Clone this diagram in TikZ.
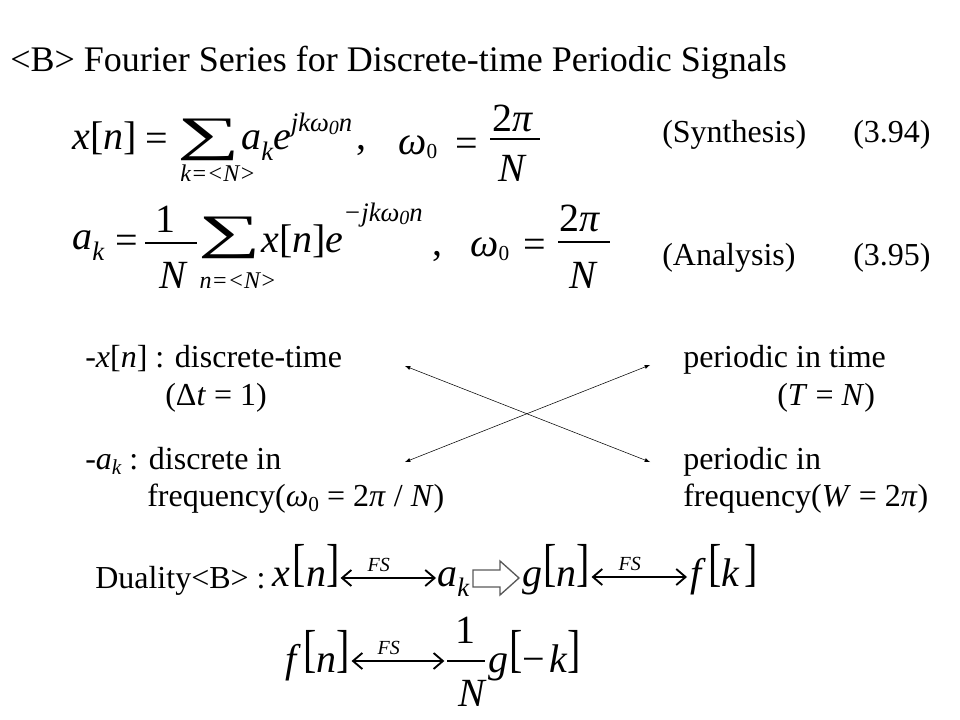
\documentclass[tikz,border=0pt]{standalone}
\usepackage{fontspec}
\setmainfont{Liberation Serif}
\usepackage{graphicx}
\usetikzlibrary{arrows.meta}

\newcommand{\bodysize}{\fontsize{24}{28}\selectfont}
\newcommand{\eqsize}{\fontsize{30}{36}\selectfont}
\newcommand{\scrsize}{\fontsize{20}{24}\selectfont}
\newcommand{\lo}[1]{\raisebox{-8pt}{\scrsize\itshape #1}}
\newcommand{\hi}[2]{\raisebox{#1}{\scrsize\itshape #2}}
\newcommand{\zs}{\raisebox{-2.5pt}{\fontsize{15}{18}\selectfont 0}}
\newcommand{\wz}{\raisebox{-2.5pt}{\fontsize{16}{18}\selectfont 0}}
\newcommand{\bsub}[1]{\raisebox{-4pt}{\fontsize{16}{18}\selectfont #1}}
\newcommand{\tall}[1]{\raisebox{4pt}{\scalebox{1}[1.3]{#1}}}
\newcommand{\bigsum}{\scalebox{1.5}[0.82]{∑}}

\begin{document}
\begin{tikzpicture}[x=0.75pt, y=-0.75pt,
    txt/.style={anchor=base west, inner sep=0pt, font=\bodysize},
    eqn/.style={anchor=base west, inner sep=0pt, font=\eqsize},
    lim/.style={anchor=base, inner sep=0pt, font=\fontsize{18}{22}\selectfont\itshape},
    sigma/.style={inner sep=0pt, font=\fontsize{44}{50}\selectfont},
    fs/.style={above, inner sep=4pt, font=\fontsize{15}{17}\selectfont\itshape},
    bar/.style={line width=1.2pt},
    pair/.style={{Straight Barb[length=7pt,width=12pt]}-{Straight Barb[length=7pt,width=12pt]}, line width=1.4pt},
    cross/.style={latex-latex, thin}]
    \useasboundingbox (0,0) rectangle (960,720);

    % Title
    \node[txt, font=\fontsize{27}{32}\selectfont] (title) at (10,72) {<B> Fourier Series for Discrete-time Periodic Signals};

    % Synthesis equation
    \node[eqn] (x1) at (72,150) {\textit{x}[\textit{n}]};
    \node[eqn] (eq1) at (145,152) {=};
    \node[sigma] (sum1) at (209,140) {\bigsum};
    \node[lim] (lim1) at (218,182) {k=<N>};
    \node[eqn] (ae1) at (241,150) {\textit{a}\lo{k}\textit{e}\hi{14pt}{jkω\zs n}\hspace{3pt},};
    \node[eqn] (w1) at (398,155) {\textit{ω}\wz};
    \node[eqn] (eq1b) at (455,157) {=};
    \node[eqn, anchor=base] (num1) at (513,132) {2\textit{π}};
    \draw[bar] (490,139) -- (540,139);
    \node[eqn, anchor=base] (den1) at (513,182) {\textit{N}};
    \node[txt] (synl) at (662,143) {(Synthesis)};
    \node[txt] (synn) at (853,143) {(3.94)};

    % Analysis equation
    \node[eqn] (a2) at (72,250) {\textit{a}\lo{k}};
    \node[eqn] (eq2) at (115,254) {=};
    \node[eqn, anchor=base] (num2) at (165,233) {1};
    \draw[bar] (145,243) -- (197,243);
    \node[eqn, anchor=base] (den2) at (174,288) {\textit{N}};
    \node[sigma] (sum2) at (230,238) {\bigsum};
    \node[lim] (lim2) at (238,288) {n=<N>};
    \node[eqn] (xe2) at (261,253) {\textit{x}[\textit{n}]\textit{e}\hi{24pt}{−jkω\zs n}};
    \node[eqn] (c2) at (432,256) {,};
    \node[eqn] (w2) at (470,257) {\textit{ω}\wz};
    \node[eqn] (eq2b) at (523,258) {=};
    \node[eqn, anchor=base] (num3) at (580,232) {2\textit{π}};
    \draw[bar] (558,242) -- (610,242);
    \node[eqn, anchor=base] (den3) at (584,288) {\textit{N}};
    \node[txt] (anal) at (662,266) {(Analysis)};
    \node[txt] (anan) at (853,266) {(3.95)};

    % Properties
    \node[txt] (xdt) at (85,367) {-\textit{x}[\textit{n}] : discrete-time};
    \node[txt] (dt) at (165,405) {(Δ\textit{t} = 1)};
    \node[txt] (ptime) at (683,367) {periodic in time};
    \node[txt] (TN) at (777,405) {(\textit{T} = \textit{N})};
    \node[txt] (adf) at (85,469) {-\textit{a}\bsub{\itshape k} : discrete in};
    \node[txt] (fw) at (147,506) {frequency(\textit{ω}\bsub{0} = 2\textit{π} / \textit{N})};
    \node[txt] (pin) at (683,469) {periodic in};
    \node[txt] (fW) at (683,506) {frequency(\textit{W} = 2\textit{π})};

    \coordinate (tl) at (405,366);
    \coordinate (br) at (650,462);
    \coordinate (bl) at (405,462);
    \coordinate (tr) at (650,365);
    \draw[cross] (tl) -- (br);
    \draw[cross] (bl) -- (tr);

    % Duality
    \node[txt] (dual) at (95,588) {Duality<B> :};
    \node[eqn] (dx) at (272,586) {\textit{x}\hspace{2pt}\tall{[}\textit{n}\tall{]}};
    \node[eqn] (dak) at (437,586) {\textit{a}\lo{k}};
    \node[eqn] (dg) at (522,586) {\textit{g}\hspace{1pt}\tall{[}\textit{n}\tall{]}};
    \node[eqn] (dfk) at (690,586) {\textit{f}\hspace{2pt}\tall{[}\textit{k}\hspace{3pt}\tall{]}};
    \draw[pair] ([shift={(1,-8)}]dx.base east) -- ([shift={(-1,-8)}]dak.base west) node[fs, pos=0.4] {FS};
    \draw[pair] ([shift={(1,-9)}]dg.base east) -- ([shift={(-3,-9)}]dfk.base west) node[fs, pos=0.4] {FS};
    \draw[line width=1pt, draw=black!65] (473,570) -- (500,570) -- (500,561) -- (519,578) -- (500,595) -- (500,587) -- (473,587) -- cycle;

    \node[eqn] (fn) at (285,672) {\textit{f}\hspace{2pt}\tall{[}\textit{n}\tall{]}};
    \coordinate (fbar) at (447,661);
    \node[eqn, anchor=base] (num4) at (465,643) {1};
    \draw[bar] (fbar) -- ++(38,0);
    \node[eqn, anchor=base] (den4) at (473,706) {\textit{N}};
    \node[eqn] (gk) at (488,672) {\textit{g}\hspace{1pt}\tall{[}−\hspace{3pt}\textit{k}\tall{]}};
    \draw[pair] ([shift={(1,-11)}]fn.base east) -- ([xshift=-2]fbar) node[fs, pos=0.4] {FS};
\end{tikzpicture}
\end{document}
